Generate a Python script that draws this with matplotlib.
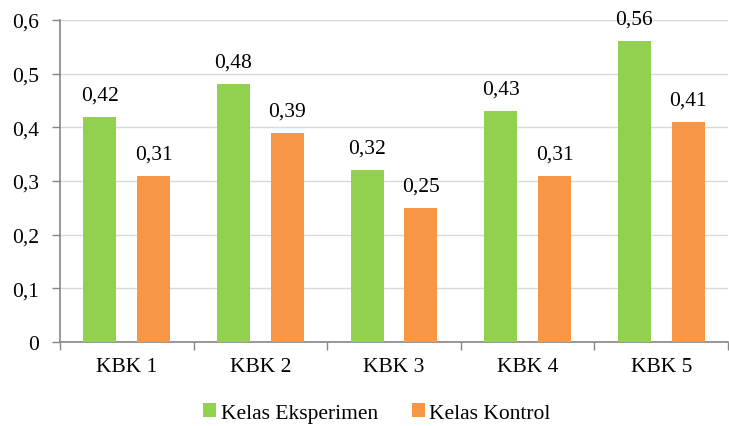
import matplotlib.pyplot as plt
import numpy as np

plt.switch_backend('Agg')
plt.rcParams['font.family'] = ['Liberation Serif', 'DejaVu Serif']

categories = ['KBK 1', 'KBK 2', 'KBK 3', 'KBK 4', 'KBK 5']
eksperimen = [0.42, 0.48, 0.32, 0.43, 0.56]
kontrol = [0.31, 0.39, 0.25, 0.31, 0.41]
y_ticks = [0, 0.1, 0.2, 0.3, 0.4, 0.5, 0.6]
y_labels = ['0', '0,1', '0,2', '0,3', '0,4', '0,5', '0,6']

GREEN = '#92D050'
ORANGE = '#F79646'
AXIS = '#868686'
GRID = '#D9D9D9'
FS = 15.5

fig = plt.figure(figsize=(7.29, 4.27), dpi=100)
ax = fig.add_axes([60 / 729, 1 - 343 / 427, 668 / 729, 322 / 427])

x = np.arange(len(categories))
w = 0.247
off = 0.202
b1 = ax.bar(x - off, eksperimen, w, color=GREEN, label='Kelas Eksperimen', zorder=3)
b2 = ax.bar(x + off, kontrol, w, color=ORANGE, label='Kelas Kontrol', zorder=3)

for bars, vals in ((b1, eksperimen), (b2, kontrol)):
    for r, v in zip(bars, vals):
        ax.annotate(('%.2f' % v).replace('.', ','),
                    xy=(r.get_x() + r.get_width() / 2, v), xytext=(0, 9),
                    textcoords='offset points', ha='center', va='bottom',
                    fontsize=FS, color='black')

ax.set_xlim(-0.5, len(categories) - 0.5)
ax.set_ylim(0, 0.6)
ax.set_yticks(y_ticks)
ax.set_yticklabels(y_labels, fontsize=FS)
ax.yaxis.grid(True, color=GRID, linewidth=1, zorder=0)
ax.set_axisbelow(True)

ax.set_xticks(x)
ax.set_xticklabels(categories, fontsize=FS)
ax.set_xticks(np.arange(-0.5, len(categories), 1), minor=True)
ax.tick_params(axis='x', which='major', length=0, pad=11)
ax.tick_params(axis='x', which='minor', length=6, color=AXIS, width=1)
ax.tick_params(axis='y', length=6, color=AXIS, width=1, pad=9)

for s in ('top', 'right'):
    ax.spines[s].set_visible(False)
for s in ('left', 'bottom'):
    ax.spines[s].set_color(AXIS)
    ax.spines[s].set_linewidth(1.2)

fig.legend(handles=[b1, b2], loc='center', bbox_to_anchor=(377 / 729, 1 - 414 / 427),
           ncol=2, frameon=False, fontsize=FS, handlelength=0.6, handleheight=0.6,
           handletextpad=0.2, columnspacing=1.6)

fig.savefig('out.png', dpi=100)
